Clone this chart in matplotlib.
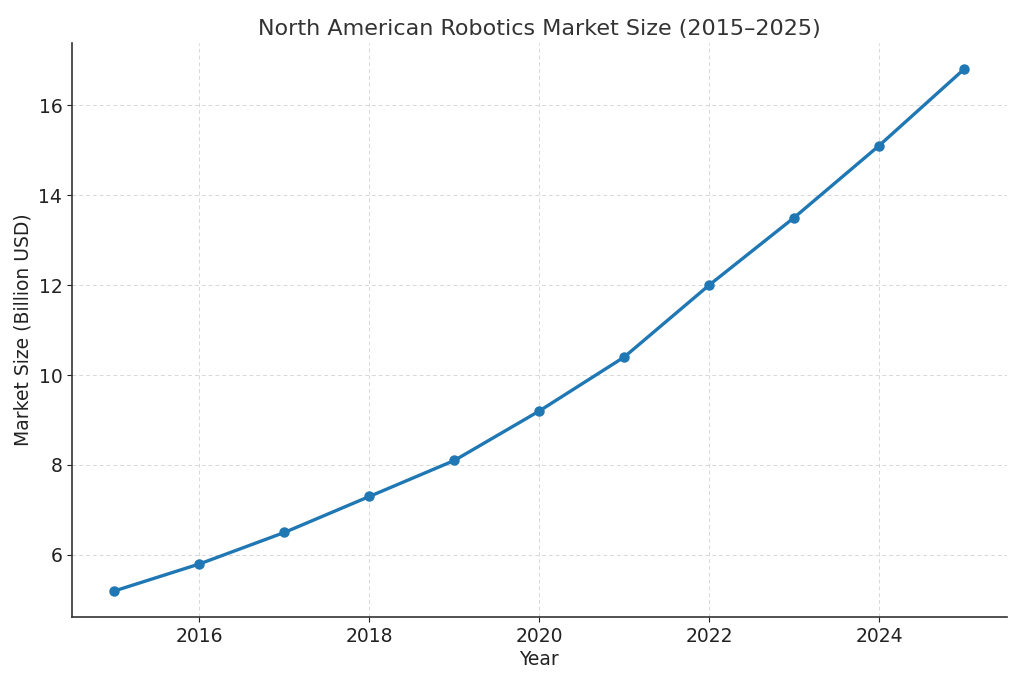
import matplotlib
matplotlib.use('Agg')
import matplotlib.pyplot as plt

years = [2015, 2016, 2017, 2018, 2019, 2020, 2021, 2022, 2023, 2024, 2025]
market_size = [5.2, 5.8, 6.5, 7.3, 8.1, 9.2, 10.4, 12.0, 13.5, 15.1, 16.8]

fig = plt.figure(figsize=(10.24, 6.83), dpi=100)
ax = fig.add_axes([0.0703, 0.0966, 0.9127, 0.8404])

ax.plot(years, market_size, color='#1f77b4', linewidth=2.4, marker='o', markersize=6.5)

ax.set_title('North American Robotics Market Size (2015\u20132025)', fontsize=16, color='#333333', pad=6)
ax.set_xlabel('Year', fontsize=13.5, color='#222222', labelpad=3)
ax.set_ylabel('Market Size (Billion USD)', fontsize=13.5, color='#222222')
ax.tick_params(labelsize=13.5, colors='#222222')
ax.set_yticks([6, 8, 10, 12, 14, 16])

ax.grid(True, linestyle=(0, (4, 3)), color='#d8d8d8', linewidth=0.7)
ax.set_axisbelow(True)
for s in ['top', 'right']:
    ax.spines[s].set_visible(False)
for s in ['left', 'bottom']:
    ax.spines[s].set_color('#333333')
    ax.spines[s].set_linewidth(1.2)

fig.savefig('out.png', dpi=100)
